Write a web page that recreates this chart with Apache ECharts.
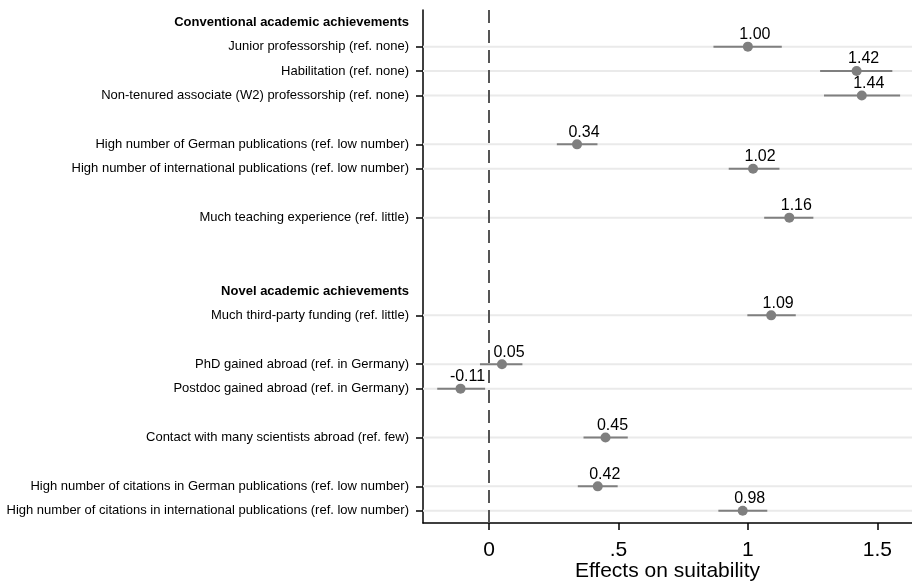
<!DOCTYPE html>
<html>
<head>
<meta charset="utf-8">
<script src="https://cdn.jsdelivr.net/npm/echarts@6/dist/echarts.min.js"></script>
<style>html,body{margin:0;padding:0;background:#fff;}#c{width:912px;height:582px;}</style>
</head>
<body>
<div id="c"></div>
<script>
const rowLabels = [
  'Conventional academic achievements',
  'Junior professorship (ref. none)',
  'Habilitation (ref. none)',
  'Non-tenured associate (W2) professorship (ref. none)',
  '',
  'High number of German publications (ref. low number)',
  'High number of international publications (ref. low number)',
  '',
  'Much teaching experience (ref. little)',
  '',
  '',
  'Novel academic achievements',
  'Much third-party funding (ref. little)',
  '',
  'PhD gained abroad (ref. in Germany)',
  'Postdoc gained abroad (ref. in Germany)',
  '',
  'Contact with many scientists abroad (ref. few)',
  '',
  'High number of citations in German publications (ref. low number)',
  'High number of citations in international publications (ref. low number)'
];
const headerRows = [0, 11];
const estimates = [null,1.00,1.42,1.44,null,0.34,1.02,null,1.16,null,null,null,1.09,null,0.05,-0.11,null,0.45,null,0.42,0.98];
const ciLower  = [null,0.867,1.279,1.294,null,0.262,0.926,null,1.063,null,null,null,0.998,null,-0.035,-0.200,null,0.365,null,0.343,0.886];
const ciUpper  = [null,1.131,1.558,1.588,null,0.419,1.122,null,1.253,null,null,null,1.185,null,0.129,-0.015,null,0.536,null,0.497,1.075];
const xTickValues = [0, 0.5, 1, 1.5];
const xTickLabels = ['0', '.5', '1', '1.5'];
const xTitle = 'Effects on suitability';

const FONT = 'Liberation Sans, Arial, Helvetica, sans-serif';
const rows = [];
estimates.forEach((v, i) => { if (v !== null) rows.push(i); });

const chart = echarts.init(document.getElementById('c'), null, {renderer: 'canvas'});
chart.setOption({
  animation: false,
  backgroundColor: '#fff',
  grid: {left: 423, right: 0, top: 10, bottom: 59, containLabel: false, outerBoundsMode: 'none'},
  xAxis: {
    type: 'value', min: -0.255, max: 1.634,
    splitLine: {show: false},
    axisLine: {show: true, lineStyle: {color: '#000', width: 1.5}},
    axisTick: {show: true, customValues: xTickValues, length: 7, lineStyle: {color: '#000', width: 1.5}},
    axisLabel: {
      customValues: xTickValues, fontSize: 21, color: '#000', fontFamily: FONT, margin: 17,
      formatter: v => { const k = xTickValues.indexOf(v); return k >= 0 ? xTickLabels[k] : ''; }
    },
    name: xTitle, nameLocation: 'middle', nameGap: 38, nameMoveOverlap: false,
    nameTextStyle: {fontSize: 21, color: '#000', fontFamily: FONT}
  },
  yAxis: {
    type: 'category', inverse: true, data: rowLabels, boundaryGap: true,
    axisLine: {show: true, onZero: false, lineStyle: {color: '#000', width: 1.5}},
    axisTick: {show: true, alignWithLabel: true, length: 7, interval: (i) => estimates[i] !== null, lineStyle: {color: '#000', width: 1.5}},
    axisLabel: {
      interval: 0, fontSize: 13, color: '#000', fontFamily: FONT, margin: 14,
      formatter: (v, i) => headerRows.includes(i) ? '{h|' + v + '}' : v,
      rich: {h: {fontWeight: 'bold', fontSize: 13, color: '#000', fontFamily: FONT}}
    },
    splitLine: {show: false}
  },
  series: [
    {
      type: 'custom', z: 1, silent: true,
      data: rows.map(i => [0, i]),
      renderItem: (params, api) => {
        const y = api.coord([0, api.value(1)])[1];
        const cs = params.coordSys;
        return {type: 'line', shape: {x1: cs.x, y1: y, x2: cs.x + cs.width, y2: y},
                style: {stroke: '#eaeaea', lineWidth: 2}};
      },
      markLine: {
        silent: true, symbol: 'none', label: {show: false},
        lineStyle: {color: '#555', width: 2, type: [13, 7]},
        data: [{xAxis: 0}]
      }
    },
    {
      type: 'custom', z: 3, silent: true,
      data: rows.map(i => [ciLower[i], ciUpper[i], i]),
      renderItem: (params, api) => {
        const a = api.coord([api.value(0), api.value(2)]);
        const b = api.coord([api.value(1), api.value(2)]);
        return {type: 'line', shape: {x1: a[0], y1: a[1], x2: b[0], y2: b[1]},
                style: {stroke: '#7f7f7f', lineWidth: 2}};
      }
    },
    {
      type: 'scatter', z: 4, symbol: 'circle', symbolSize: 10,
      itemStyle: {color: '#7f7f7f', opacity: 1},
      data: rows.map(i => [estimates[i], i]),
      label: {
        show: true, position: 'top', distance: -1, offset: [7, 0],
        fontSize: 16, color: '#000', fontFamily: FONT,
        formatter: p => p.value[0].toFixed(2)
      }
    }
  ]
});
</script>
</body>
</html>
